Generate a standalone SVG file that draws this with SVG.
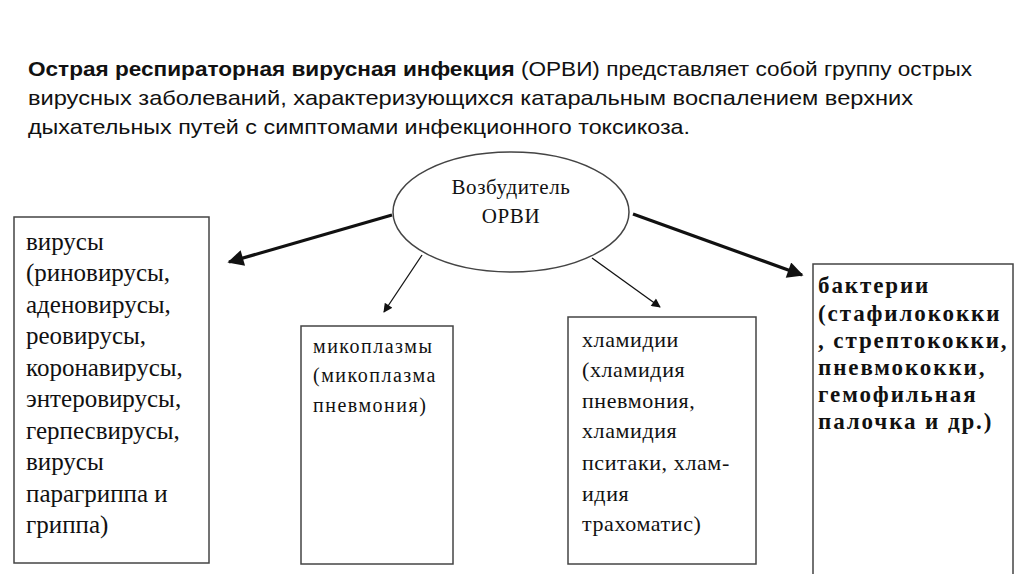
<svg xmlns="http://www.w3.org/2000/svg" width="1024" height="574" viewBox="0 0 1024 574">
<defs>
<style>
.title{font-family:"Liberation Sans","Noto Sans",sans-serif;font-size:21px;fill:#111}
.b{font-weight:bold}
.box{fill:#fff;stroke:#444;stroke-width:1.5}
.t{font-family:"Liberation Serif","DejaVu Serif",serif;fill:#111}
.thick{stroke:#111;stroke-width:3.2;fill:none}
.thin{stroke:#111;stroke-width:1.3;fill:none}
</style>
<marker id="big" viewBox="0 0 10 10" refX="9" refY="5" markerWidth="6" markerHeight="5" markerUnits="strokeWidth" orient="auto"><path d="M0,0 L10,5 L0,10 Z" fill="#111"/></marker>
<marker id="small" viewBox="0 0 10 10" refX="9" refY="5" markerWidth="8" markerHeight="7" markerUnits="strokeWidth" orient="auto"><path d="M0,0 L10,5 L0,10 Z" fill="#111"/></marker>
</defs>
<rect width="1024" height="574" fill="#fff"/>
<g id="title" class="title">
<text x="28" y="76" textLength="944" lengthAdjust="spacingAndGlyphs"><tspan class="b">Острая респираторная вирусная инфекция</tspan> (ОРВИ) представляет собой группу острых</text>
<text x="28" y="105" textLength="885" lengthAdjust="spacingAndGlyphs">вирусных заболеваний, характеризующихся катаральным воспалением верхних</text>
<text x="28" y="134" textLength="662" lengthAdjust="spacingAndGlyphs">дыхательных путей с симптомами инфекционного токсикоза.</text>
</g>
<g id="connectors">
<line class="thick" x1="392" y1="215" x2="229" y2="262" marker-end="url(#big)"/>
<line class="thick" x1="633" y1="214" x2="802" y2="275" marker-end="url(#big)"/>
<line class="thin" x1="422" y1="255" x2="384" y2="312" marker-end="url(#small)"/>
<line class="thin" x1="592" y1="258" x2="660" y2="307" marker-end="url(#small)"/>
</g>
<g id="root">
<ellipse cx="511" cy="212" rx="118" ry="60" fill="#fff" stroke="#444" stroke-width="1.5"/>
<text class="t" x="511" y="194" font-size="21" letter-spacing="0.6" text-anchor="middle">Возбудитель</text>
<text class="t" x="511" y="223" font-size="21" letter-spacing="0.6" text-anchor="middle">ОРВИ</text>
</g>
<g id="viruses">
<rect class="box" x="14" y="217" width="195" height="346"/>
<text class="t" font-size="25">
<tspan x="26" y="250">вирусы</tspan>
<tspan x="26" y="281">(риновирусы,</tspan>
<tspan x="26" y="313">аденовирусы,</tspan>
<tspan x="26" y="344">реовирусы,</tspan>
<tspan x="26" y="376">коронавирусы,</tspan>
<tspan x="26" y="407">энтеровирусы,</tspan>
<tspan x="26" y="439">герпесвирусы,</tspan>
<tspan x="26" y="470">вирусы</tspan>
<tspan x="26" y="502">парагриппа и</tspan>
<tspan x="26" y="533">гриппа)</tspan>
</text>
</g>
<g id="mycoplasma">
<rect class="box" x="301" y="326" width="152" height="238"/>
<text class="t" font-size="20" letter-spacing="1.5">
<tspan x="313" y="353">микоплазмы</tspan>
<tspan x="313" y="382">(микоплазма</tspan>
<tspan x="313" y="412">пневмония)</tspan>
</text>
</g>
<g id="chlamydia">
<rect class="box" x="568" y="317" width="188" height="247"/>
<text class="t" font-size="22" letter-spacing="0.6">
<tspan x="582" y="347">хламидии</tspan>
<tspan x="582" y="377">(хламидия</tspan>
<tspan x="582" y="408">пневмония,</tspan>
<tspan x="582" y="438">хламидия</tspan>
<tspan x="582" y="470">пситаки, хлам-</tspan>
<tspan x="582" y="501">идия</tspan>
<tspan x="582" y="531">трахоматис)</tspan>
</text>
</g>
<g id="bacteria">
<rect class="box" x="813" y="264" width="200" height="320"/>
<text class="t b" font-size="23" letter-spacing="1.9">
<tspan x="818" y="293">бактерии</tspan>
<tspan x="818" y="321">(стафилококки</tspan>
<tspan x="818" y="348">, стрептококки,</tspan>
<tspan x="818" y="375">пневмококки,</tspan>
<tspan x="818" y="402">гемофильная</tspan>
<tspan x="818" y="429">палочка и др.)</tspan>
</text>
</g>
</svg>
